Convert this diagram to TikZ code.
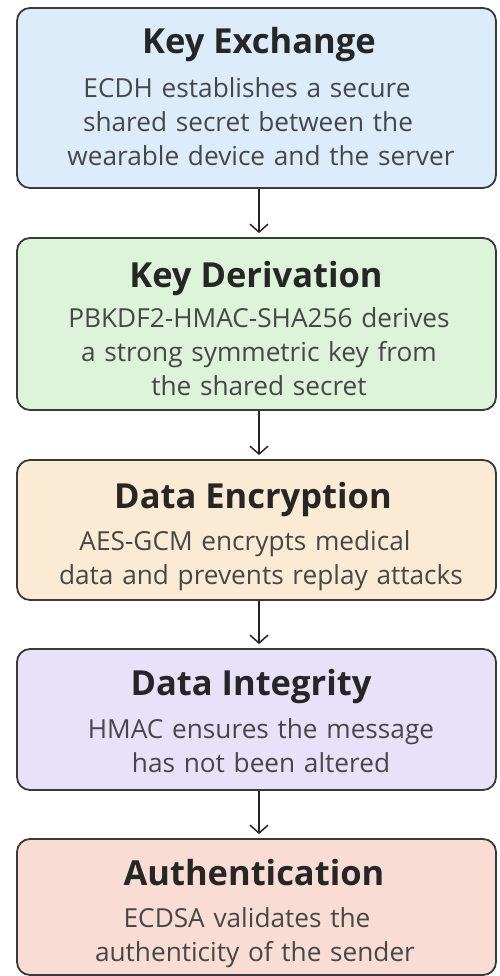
\documentclass[tikz,border=0pt]{standalone}
\usepackage{fontspec}
\setmainfont{Open Sans}
\usetikzlibrary{arrows.meta}
\definecolor{edge}{HTML}{3A3A3A}
\definecolor{txt}{HTML}{262626}
\definecolor{fa}{HTML}{DDECFA}
\definecolor{fb}{HTML}{DDF3DA}
\definecolor{fc}{HTML}{FCEBD4}
\definecolor{fd}{HTML}{E7E2FA}
\definecolor{fe}{HTML}{F9DCD4}
\tikzset{
  card/.style={draw=edge, line width=1.8pt, rounded corners=13pt, minimum width=479pt, inner sep=0pt},
  ttl/.style={anchor=base, inner sep=0pt, text=txt, font=\fontsize{34.5}{38}\selectfont\bfseries},
  bod/.style={anchor=base, inner sep=0pt, text=txt!85!white, text width=490pt, align=center, font=\fontsize{26.2}{34}\selectfont},
  flow/.style={draw=txt, line width=1.5pt, -{Straight Barb[length=8pt,width=18pt,line width=1.5pt]}, shorten >=4pt}
}
\begin{document}
\begin{tikzpicture}[x=1pt,y=-1pt]
\useasboundingbox (0,0) rectangle (500,976);
\fill[white] (0,0) rectangle (500,976);
% boxes
\node[card, fill=fa, minimum height=180pt] (b1) at (256.5,98) {};
\node[card, fill=fb, minimum height=172pt] (b2) at (256.5,324) {};
\node[card, fill=fc, minimum height=140pt] (b3) at (256.5,530) {};
\node[card, fill=fd, minimum height=141pt] (b4) at (256.5,719.5) {};
\node[card, fill=fe, minimum height=136pt] (b5) at (256.5,907) {};
% texts
\node[ttl] (t1) at (259,54) {Key Exchange};
\node[bod] (d1) at (261,98) {ECDH establishes a secure\kern28pt\\shared secret between the\kern26pt\\wearable device and the server};
\node[ttl] (t2) at (256,287) {Key Derivation};
\node[bod] (d2) at (259,327) {PBKDF2-HMAC-SHA256 derives\\a strong symmetric key from\\the shared secret};
\node[ttl] (t3) at (253,508) {Data Encryption};
\node[bod] (d3) at (261,550) {AES-GCM encrypts medical\kern32pt\\data and prevents replay attacks};
\node[ttl] (t4) at (251,695) {Data Integrity};
\node[bod] (d4) at (261,738) {HMAC ensures the message\\has not been altered};
\node[ttl] (t5) at (254,885) {Authentication};
\node[bod] (d5) at (261,927) {ECDSA validates the\kern28pt\\authenticity of the sender\kern12pt};
% connectors
\draw[flow] ([xshift=2.5pt]b1.south) -- ([xshift=2.5pt]b2.north);
\draw[flow] ([xshift=2.5pt]b2.south) -- ([xshift=2.5pt]b3.north);
\draw[flow] ([xshift=2.5pt]b3.south) -- ([xshift=2.5pt]b4.north);
\draw[flow] ([xshift=2.5pt]b4.south) -- ([xshift=2.5pt]b5.north);
\end{tikzpicture}
\end{document}
